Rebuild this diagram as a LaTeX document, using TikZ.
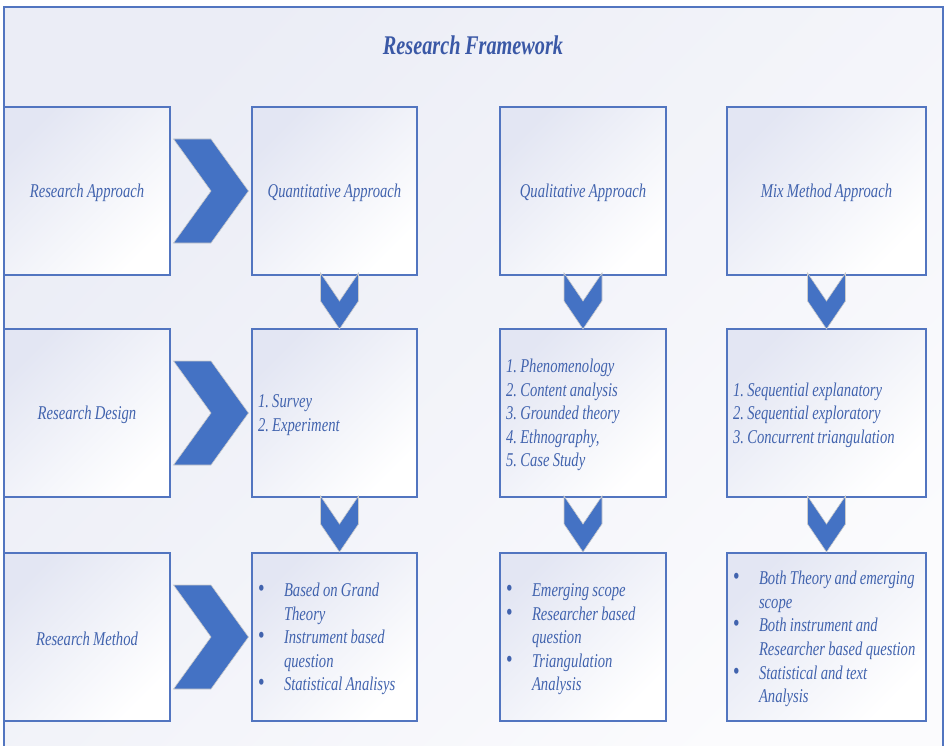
\documentclass[tikz,border=0pt]{standalone}
\usepackage{fontspec}
\setmainfont{Liberation Serif}[FakeStretch=0.75, WordSpace=0.9, PunctuationSpace=0]
\usetikzlibrary{calc}

\definecolor{inkblue}{HTML}{4163AE}
\definecolor{titleblue}{HTML}{3A58A6}
\definecolor{chevblue}{HTML}{4472C4}
\definecolor{frameblue}{HTML}{5275C0}
\definecolor{lavtop}{HTML}{E3E6F3}
\definecolor{pagetop}{HTML}{EBEDF6}
\definecolor{pagebot}{HTML}{FBFBFD}

\newcommand\bodyfont{\fontsize{19.5}{23.6}\selectfont\itshape\frenchspacing}
\newcommand\titlefont{\fontsize{27}{30}\selectfont\bfseries\itshape}
\newcommand\dotmark{{\fontsize{25}{23.6}\selectfont\upshape\textbullet}}
\newcommand\itemrows[1]{\begin{tabular}{@{}p{26pt}@{}l@{}}#1\end{tabular}}

\tikzset{
  x=1pt, y=-1pt,
  stage/.style={draw=frameblue, line width=1.2pt, inner sep=0pt,
    top color=lavtop, bottom color=white, shading angle=45,
    minimum width=166pt, minimum height=168pt},
  caption/.style={inner sep=0pt, text=inkblue, font=\bodyfont, align=center},
  listing/.style={caption, align=flush left, text width=154pt,
    execute at begin node={\spaceskip=0pt\xspaceskip=0pt\relax}},
  widelisting/.style={listing, text width=187pt},
  chevron/.style={fill=chevblue, draw=black!20, line width=0.6pt},
  pics/hchev/.style={code={\path[chevron] (-37.5,-52) -- (0,-52) -- (37.5,0)
      -- (0,52) -- (-37.5,52) -- (0,0) -- cycle;}},
  pics/vchev/.style={code={\path[chevron] (-19,-28) -- (0,0) -- (19,-28)
      -- (19,0) -- (0,28) -- (-19,0) -- cycle;}},
}

\begin{document}
\begin{tikzpicture}
\useasboundingbox (0,0) rectangle (944,746);
\clip (0,0) rectangle (944,746);

% page frame
\path[top color=pagetop, bottom color=pagebot, shading angle=45]
  (4,7) rectangle (943,780);
\draw[frameblue, line width=1.4pt] (4,780) -- (4,7) -- (943,7) -- (943,780);

\node[titleblue, font=\titlefont] (title) at (473,45) {Research Framework};

% boxes: row labels, then the three approaches per row
\node[stage] (ra) at (87,191) {};
\node[stage] (rd) at (87,413) {};
\node[stage] (rm) at (87,637) {};
\node[stage, minimum width=165pt] (qa) at (334.5,191) {};
\node[stage, minimum width=165pt] (qd) at (334.5,413) {};
\node[stage, minimum width=165pt] (qm) at (334.5,637) {};
\node[stage] (la) at (583,191) {};
\node[stage] (ld) at (583,413) {};
\node[stage] (lm) at (583,637) {};
\node[stage, minimum width=199pt] (ma) at (826.5,191) {};
\node[stage, minimum width=199pt] (md) at (826.5,413) {};
\node[stage, minimum width=199pt] (mm) at (826.5,637) {};

% box texts
\node[caption] (ra-t) at ($(ra.center)+(0,2)$) {Research Approach};
\node[caption] (rd-t) at ($(rd.center)+(0,2)$) {Research Design};
\node[caption] (rm-t) at ($(rm.center)+(0,2)$) {Research Method};
\node[caption] (qa-t) at ($(qa.center)+(0,2)$) {Quantitative Approach};
\node[caption] (la-t) at ($(la.center)+(0,2)$) {Qualitative Approach};
\node[caption] (ma-t) at ($(ma.center)+(0,2)$) {Mix Method Approach};

\node[listing, text width=153pt] (qd-t) at ($(qd.center)+(0,2)$)
  {1. Survey\\2. Experiment};
\node[listing] (ld-t) at ($(ld.center)+(0,2)$)
  {1. Phenomenology\\2. Content analysis\\3. Grounded theory\\4. Ethnography,\\5. Case Study};
\node[widelisting] (md-t) at ($(md.center)+(0,2)$)
  {1. Sequential explanatory\\2. Sequential exploratory\\3. Concurrent triangulation};

\node[listing, text width=153pt] (qm-t) at ($(qm.center)+(0,2)$) {\itemrows{%
  \dotmark & Based on Grand\\ & Theory\\
  \dotmark & Instrument based\\ & question\\
  \dotmark & Statistical Analisys}};
\node[listing] (lm-t) at ($(lm.center)+(0,2)$) {\itemrows{%
  \dotmark & Emerging scope\\
  \dotmark & Researcher based\\ & question\\
  \dotmark & Triangulation\\ & Analysis}};
\node[widelisting] (mm-t) at ($(mm.center)+(0,2)$) {\itemrows{%
  \dotmark & Both Theory and emerging\\ & scope\\
  \dotmark & Both instrument and\\ & Researcher based question\\
  \dotmark & Statistical and text\\ & Analysis}};

% horizontal chevrons
\pic at ($(ra.east)!0.5!(qa.west)$) {hchev};
\pic at ($(rd.east)!0.5!(qd.west)$) {hchev};
\pic at ($(rm.east)!0.5!(qm.west)$) {hchev};

% vertical chevrons
\pic at ($(qa.south)!0.5!(qd.north)+(5,-1)$) {vchev};
\pic at ($(qd.south)!0.5!(qm.north)+(5,-1)$) {vchev};
\pic at ($(la.south)!0.5!(ld.north)+(0,-1)$) {vchev};
\pic at ($(ld.south)!0.5!(lm.north)+(0,-1)$) {vchev};
\pic at ($(ma.south)!0.5!(md.north)+(0,-1)$) {vchev};
\pic at ($(md.south)!0.5!(mm.north)+(0,-1)$) {vchev};
\end{tikzpicture}
\end{document}
